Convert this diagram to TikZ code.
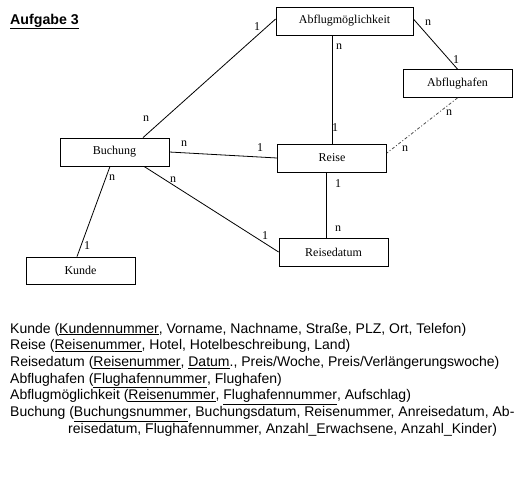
\documentclass[tikz,border=0pt]{standalone}
\usepackage{fontspec}
\setmainfont{Liberation Sans}
\newfontfamily\erfont{Liberation Serif}
\usetikzlibrary{calc}
\tikzset{
	entity/.style={draw, line width=0.8pt, minimum height=28pt, minimum width=109pt, inner sep=0pt, font=\erfont\fontsize{12}{14}\selectfont},
	card/.style={inner sep=0pt, font=\erfont\fontsize{12}{14}\selectfont},
	rel/.style={line width=0.8pt},
	schema/.style={anchor=base west, inner sep=0pt, font=\fontsize{14}{16.7}\selectfont},
}
\def\key#1{\underline{#1}}

\begin{document}
\begin{tikzpicture}[x=1pt, y=-1pt]
		%%%%% START %%%%%
		\useasboundingbox (0,0) rectangle (518,480);
		
		\node[anchor=base west, inner sep=0pt, font=\bfseries\fontsize{14.2}{16}\selectfont] (title) at (10,24) {\underline{Aufgabe 3}};
		
		\node[entity, minimum width=137pt] (abflugm) at (344.5,21) {Abflugmöglichkeit};
		\node[entity] (abflughafen) at (457.5,83.5) {Abflughafen};
		\node[entity] (buchung) at (114.5,152) {Buchung};
		\node[entity] (reise) at (332,158) {Reise};
		\node[entity] (reisedatum) at (333.5,252) {Reisedatum};
		\node[entity, minimum height=27pt] (kunde) at (80.5,270.5) {Kunde};
		
		\draw[rel] ([xshift=28.5pt]buchung.north) -- ([yshift=2pt]abflugm.west);
		\draw[rel] ([xshift=-12.5pt]abflugm.south) -- (reise.north);
		\draw[rel] ([yshift=2pt]abflugm.east) -- (abflughafen.north);
		\draw[rel, color=black!70, dash pattern=on 3pt off 2pt on 1pt off 2pt] (abflughafen.south) -- ([yshift=5pt]reise.east);
		\draw[rel] (buchung.east) -- (reise.west);
		\draw[rel] ([xshift=29.5pt]buchung.south) -- (reisedatum.west);
		\draw[rel] ([xshift=-6pt]reise.south) -- ([xshift=-7.5pt]reisedatum.north);
		\draw[rel] ([xshift=-4.5pt]buchung.south) -- ([xshift=-3.5pt]kunde.north);
		
		\node[card] (c1) at (257,27) {1};
		\node[card] (c2) at (146,119) {n};
		\node[card] (c3) at (339,47) {n};
		\node[card] (c4) at (335,128) {1};
		\node[card] (c5) at (428,23) {n};
		\node[card] (c6) at (456,60) {1};
		\node[card] (c7) at (449,113) {n};
		\node[card] (c8) at (405,149) {n};
		\node[card] (c9) at (184,144) {n};
		\node[card] (c10) at (260,148) {1};
		\node[card] (c11) at (173,180) {n};
		\node[card] (c12) at (265,236) {1};
		\node[card] (c13) at (338,184) {1};
		\node[card] (c14) at (338,229) {n};
		\node[card] (c15) at (112,178) {n};
		\node[card] (c16) at (87,246) {1};
		
		\node[schema] (kundeRel) at (10,333) {Kunde (\key{Kundennummer}, Vorname, Nachname, Straße, PLZ, Ort, Telefon)};
		\node[schema] (reiseRel) at (10,349.7) {Reise (\key{Reisenummer}, Hotel, Hotelbeschreibung, Land)};
		\node[schema] (reisedatumRel) at (10,366.4) {Reisedatum (\key{Reisenummer}, \key{Datum}., Preis/Woche, Preis/Verlängerungswoche)};
		\node[schema] (abflughafenRel) at (10,383.1) {Abflughafen (\key{Flughafennummer}, Flughafen)};
		\node[schema] (abflugmRel) at (10,399.8) {Abflugmöglichkeit (\key{Reisenummer}, \key{Flughafennummer}, Aufschlag)};
		\node[schema] (buchungRel) at (10,416.5) {Buchung (\key{Buchungsnummer}, Buchungsdatum, Reisenummer, Anreisedatum, Ab-};
		\node[schema] (buchungRel2) at (68,433.2) {reisedatum, Flughafennummer, Anzahl\_Erwachsene, Anzahl\_Kinder)};
		
		%%%%% END %%%%%
\end{tikzpicture}
\end{document}
